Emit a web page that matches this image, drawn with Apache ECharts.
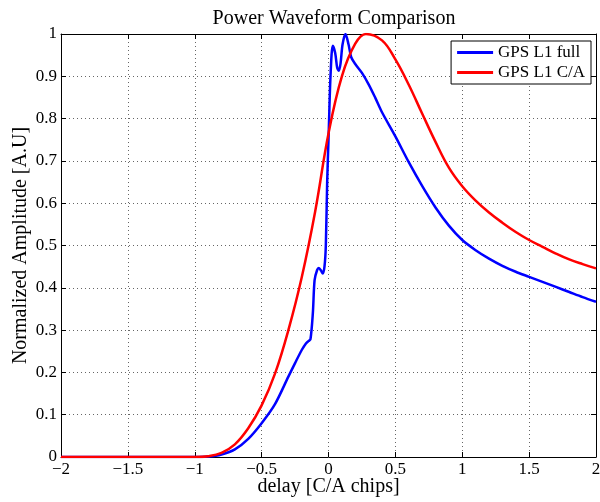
<!DOCTYPE html>
<html>
<head>
<meta charset="utf-8">
<script src="https://cdn.jsdelivr.net/npm/echarts@6/dist/echarts.min.js"></script>
<style>
  html, body { margin: 0; padding: 0; background: #fff; }
  #chart { width: 600px; height: 502px; }
</style>
</head>
<body>
<div id="chart"></div>
<script>
const fullDelay = [-2, -1.0, -0.9, -0.8, -0.7, -0.6, -0.5, -0.4, -0.3, -0.25, -0.2, -0.17, -0.15, -0.135,
    -0.117, -0.104, -0.085, -0.072, -0.055, -0.043, -0.03, -0.02, -0.01, 0.0, 0.015, 0.032, 0.05,
    0.065, 0.077, 0.09, 0.105, 0.127, 0.15, 0.17, 0.2, 0.25, 0.3, 0.35, 0.4, 0.5, 0.6, 0.7,
    0.8, 0.9, 1.0, 1.1, 1.2, 1.3, 1.4, 1.5, 1.6, 1.7, 1.8, 1.9, 2.0];
const fullAmp = [0, 0, 0.001, 0.006, 0.018, 0.043, 0.08, 0.125, 0.19, 0.222, 0.253, 0.268, 0.274, 0.278,
    0.34, 0.418, 0.442, 0.447, 0.44, 0.434, 0.45, 0.5, 0.65, 0.75, 0.9, 0.972, 0.955,
    0.92, 0.913, 0.93, 0.975, 1.0, 0.975, 0.945, 0.929, 0.908, 0.881, 0.849, 0.815, 0.758, 0.697, 0.641,
    0.59, 0.547, 0.513, 0.489, 0.469, 0.452, 0.438, 0.426, 0.414, 0.402, 0.39, 0.378, 0.367];

const caDelay = [-2, -1.0, -0.9, -0.8, -0.7, -0.6, -0.5, -0.4, -0.3, -0.2, -0.1, 0.0, 0.1, 0.2,
    0.28, 0.4, 0.5, 0.6, 0.7, 0.8, 0.9, 1.0, 1.1, 1.2, 1.3, 1.4, 1.5, 1.6, 1.7, 1.8, 1.9, 2.0];
const caAmp = [0, 0, 0.002, 0.01, 0.03, 0.068, 0.122, 0.197, 0.3, 0.425, 0.58, 0.765, 0.9, 0.977,
    1.0, 0.985, 0.94, 0.88, 0.812, 0.745, 0.684, 0.64, 0.606, 0.578, 0.554, 0.532, 0.513, 0.497,
    0.481, 0.467, 0.456, 0.446];

const seriesNames = ['GPS L1 full', 'GPS L1 C/A'];

const serif = 'Liberation Serif, Times New Roman, serif';
const zip = (xs, ys) => xs.map((x, i) => [x, ys[i]]);

const chart = echarts.init(document.getElementById('chart'));

const gridLine = {show: true, lineStyle: {color: '#666', type: [1, 3], width: 1}};
const boxLine = {show: true, onZero: false, lineStyle: {color: '#000', width: 1}};
const tick = {show: true, inside: true, length: 5, lineStyle: {color: '#000'}};

chart.setOption({
    animation: false,
    backgroundColor: '#fff',
    title: {
        text: 'Power Waveform Comparison',
        left: 329,
        textAlign: 'center',
        top: 4,
        textStyle: {fontFamily: serif, fontSize: 20, fontWeight: 'normal', color: '#000'}
    },
    grid: {left: 61, right: 4, top: 34, bottom: 45, containLabel: false, outerBoundsMode: 'none'},
    legend: {
        data: seriesNames,
        orient: 'vertical',
        right: 9,
        top: 41,
        padding: [3, 6, 3, 6],
        itemGap: 3,
        itemWidth: 36,
        itemHeight: 3,
        icon: 'rect',
        borderColor: '#000',
        borderWidth: 1,
        backgroundColor: '#fff',
        textStyle: {fontFamily: serif, fontSize: 17, color: '#000', lineHeight: 17}
    },
    xAxis: [
        {
            type: 'value',
            min: -2,
            max: 2,
            interval: 0.5,
            name: 'delay [C/A chips]',
            nameLocation: 'middle',
            nameGap: 20,
            nameMoveOverlap: false,
            nameTextStyle: {fontFamily: serif, fontSize: 20, color: '#000'},
            axisLine: boxLine,
            axisTick: tick,
            splitLine: gridLine,
            axisLabel: {
                fontFamily: serif, fontSize: 17, color: '#000', margin: 4,
                formatter: v => String(v).replace('-', '\u2212')
            }
        },
        {
            type: 'value',
            position: 'top',
            min: -2,
            max: 2,
            interval: 0.5,
            axisLine: boxLine,
            axisTick: tick,
            axisLabel: {show: false},
            splitLine: {show: false}
        }
    ],
    yAxis: [
        {
            type: 'value',
            min: 0,
            max: 1,
            interval: 0.1,
            name: 'Normalized Amplitude [A.U]',
            nameLocation: 'middle',
            nameGap: 30,
            nameMoveOverlap: false,
            nameTextStyle: {fontFamily: serif, fontSize: 20, color: '#000'},
            axisLine: boxLine,
            axisTick: tick,
            splitLine: gridLine,
            axisLabel: {
                fontFamily: serif, fontSize: 17, color: '#000', margin: 4,
                formatter: v => String(Math.round(v * 10) / 10)
            }
        },
        {
            type: 'value',
            position: 'right',
            min: 0,
            max: 1,
            interval: 0.1,
            axisLine: boxLine,
            axisTick: tick,
            axisLabel: {show: false},
            splitLine: {show: false}
        }
    ],
    series: [
        {
            name: seriesNames[0],
            type: 'line',
            data: zip(fullDelay, fullAmp),
            showSymbol: false,
            symbol: 'none',
            smooth: 0.3,
            lineStyle: {color: '#0000ff', width: 2.5},
            itemStyle: {color: '#0000ff'}
        },
        {
            name: seriesNames[1],
            type: 'line',
            data: zip(caDelay, caAmp),
            showSymbol: false,
            symbol: 'none',
            smooth: 0.4,
            lineStyle: {color: '#ff0000', width: 2.5},
            itemStyle: {color: '#ff0000'}
        }
    ]
});
</script>
</body>
</html>
